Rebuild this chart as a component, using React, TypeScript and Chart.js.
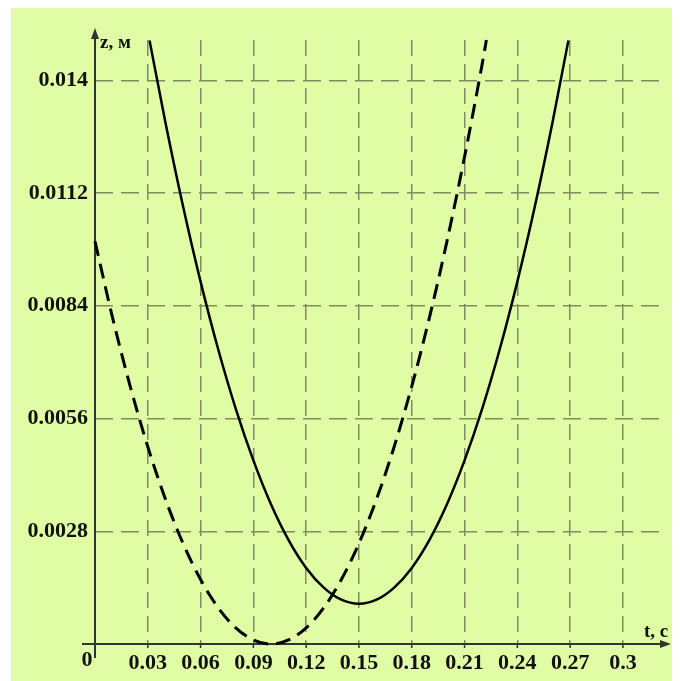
import React, { useEffect, useRef } from "react";
import { Chart, registerables } from "chart.js";

Chart.register(...registerables);

// ---- data ----
const solidT = [0.031, 0.04, 0.05, 0.06, 0.07, 0.08, 0.09, 0.1, 0.11, 0.12, 0.13, 0.14, 0.15, 0.16, 0.17, 0.18, 0.19, 0.2, 0.21, 0.22, 0.23, 0.24, 0.25, 0.26, 0.269];
const solidZ = [0.01499, 0.01296, 0.01088, 0.009, 0.00732, 0.00584, 0.00456, 0.00347, 0.00258, 0.00189, 0.0014, 0.0011, 0.001, 0.0011, 0.0014, 0.00189, 0.00258, 0.00347, 0.00456, 0.00584, 0.00732, 0.009, 0.01088, 0.01296, 0.01499];
const dashT = [0, 0.01, 0.02, 0.03, 0.04, 0.05, 0.06, 0.07, 0.08, 0.09, 0.1, 0.11, 0.12, 0.13, 0.14, 0.15, 0.16, 0.17, 0.18, 0.19, 0.2, 0.21, 0.22, 0.2224];
const dashZ = [0.01, 0.0081, 0.0064, 0.0049, 0.0036, 0.0025, 0.0016, 0.0009, 0.0004, 0.0001, 0, 0.0001, 0.0004, 0.0009, 0.0016, 0.0025, 0.0036, 0.0049, 0.0064, 0.0081, 0.01, 0.0121, 0.0144, 0.015];
const xTicks = [0.03, 0.06, 0.09, 0.12, 0.15, 0.18, 0.21, 0.24, 0.27, 0.3];
const xTickLabels = ["0.03", "0.06", "0.09", "0.12", "0.15", "0.18", "0.21", "0.24", "0.27", "0.3"];
const yTicks = [0.0028, 0.0056, 0.0084, 0.0112, 0.014];
const yTickLabels = ["0.0028", "0.0056", "0.0084", "0.0112", "0.014"];
const xMax = 0.3205;
const yMax = 0.015;
const xTitle = "t, c";
const yTitle = "z, м";
const originLabel = "0";

const FONT = '"Liberation Serif", "Times New Roman", serif';
const GRID = "#7f8c62";
const AXIS = "#333333";

const axesPlugin = {
  id: "arrowAxes",
  beforeDatasetsDraw(chart: any) {
    const { ctx, chartArea, scales } = chart;
    const x0 = scales.x.getPixelForValue(0);
    const y0 = scales.y.getPixelForValue(0);
    ctx.save();
    ctx.strokeStyle = AXIS;
    ctx.fillStyle = AXIS;
    ctx.lineWidth = 2;
    // x axis
    ctx.beginPath();
    ctx.moveTo(x0 - 13, y0);
    ctx.lineTo(chartArea.right + 6, y0);
    ctx.stroke();
    ctx.beginPath();
    ctx.moveTo(chartArea.right + 12, y0);
    ctx.lineTo(chartArea.right + 1, y0 - 4);
    ctx.lineTo(chartArea.right + 1, y0 + 4);
    ctx.closePath();
    ctx.fill();
    // y axis
    ctx.beginPath();
    ctx.moveTo(x0, y0 + 14);
    ctx.lineTo(x0, chartArea.top - 6);
    ctx.stroke();
    ctx.beginPath();
    ctx.moveTo(x0, chartArea.top - 12);
    ctx.lineTo(x0 - 4, chartArea.top - 1);
    ctx.lineTo(x0 + 4, chartArea.top - 1);
    ctx.closePath();
    ctx.fill();
    // small tick marks under x axis
    ctx.lineWidth = 1.5;
    for (const v of xTicks) {
      const px = scales.x.getPixelForValue(v);
      ctx.beginPath();
      ctx.moveTo(px, y0);
      ctx.lineTo(px, y0 + 4);
      ctx.stroke();
    }
    // titles
    ctx.fillStyle = "#111";
    ctx.font = `bold 19px ${FONT}`;
    ctx.textAlign = "left";
    ctx.textBaseline = "alphabetic";
    ctx.fillText(yTitle, x0 + 5, chartArea.top + 8);
    ctx.fillText(xTitle, chartArea.right - 15, y0 - 7);
    ctx.font = `bold 22px ${FONT}`;
    ctx.textAlign = "center";
    ctx.textBaseline = "top";
    ctx.fillText(originLabel, x0 - 8, y0 + 5);
    ctx.restore();
  },
};

export default function App() {
  const ref = useRef<HTMLCanvasElement>(null);
  useEffect(() => {
    const canvas = ref.current;
    if (!canvas) return;
    const chart = new Chart(canvas, {
      type: "line",
      data: {
        datasets: [
          {
            data: solidT.map((t, i) => ({ x: t, y: solidZ[i] })),
            borderColor: "#000",
            borderWidth: 2.5,
            pointRadius: 0,
            cubicInterpolationMode: "monotone",
            clip: false,
          },
          {
            data: dashT.map((t, i) => ({ x: t, y: dashZ[i] })),
            borderColor: "#000",
            borderWidth: 3,
            borderDash: [15, 8],
            pointRadius: 0,
            cubicInterpolationMode: "monotone",
            clip: false,
          },
        ],
      },
      options: {
        animation: false,
        responsive: false,
        events: [],
        layout: { padding: { top: 32, right: 21, left: 0, bottom: 0 } },
        plugins: { legend: { display: false }, tooltip: { enabled: false } },
        scales: {
          x: {
            type: "linear",
            min: 0,
            max: xMax,
            afterBuildTicks: (s: any) => {
              s.ticks = xTicks.map((v) => ({ value: v }));
            },
            afterFit: (s: any) => {
              s.height = 37;
            },
            ticks: {
              autoSkip: false,
              maxRotation: 0,
              padding: 6,
              color: "#111",
              font: { family: FONT, weight: "bold", size: 22 },
              callback: (_v: any, i: number) => xTickLabels[i],
            },
            grid: { color: GRID, lineWidth: 1.5, drawTicks: false },
            border: { display: false, dash: [16, 8] },
          },
          y: {
            type: "linear",
            min: 0,
            max: yMax,
            afterBuildTicks: (s: any) => {
              s.ticks = yTicks.map((v) => ({ value: v }));
            },
            afterFit: (s: any) => {
              s.width = 84;
            },
            ticks: {
              autoSkip: false,
              padding: 7,
              color: "#111",
              font: { family: FONT, weight: "bold", size: 22 },
              callback: (_v: any, i: number) => yTickLabels[i],
            },
            grid: { color: GRID, lineWidth: 1.5, drawTicks: false },
            border: { display: false, dash: [18, 8] },
          },
        },
      },
      plugins: [axesPlugin],
    } as any);
    return () => chart.destroy();
  }, []);
  return (
    <div style={{ marginLeft: 3, width: 669, height: 673, background: "#e0fca5" }}>
      <canvas ref={ref} width={669} height={673} style={{ display: "block" }} />
    </div>
  );
}
